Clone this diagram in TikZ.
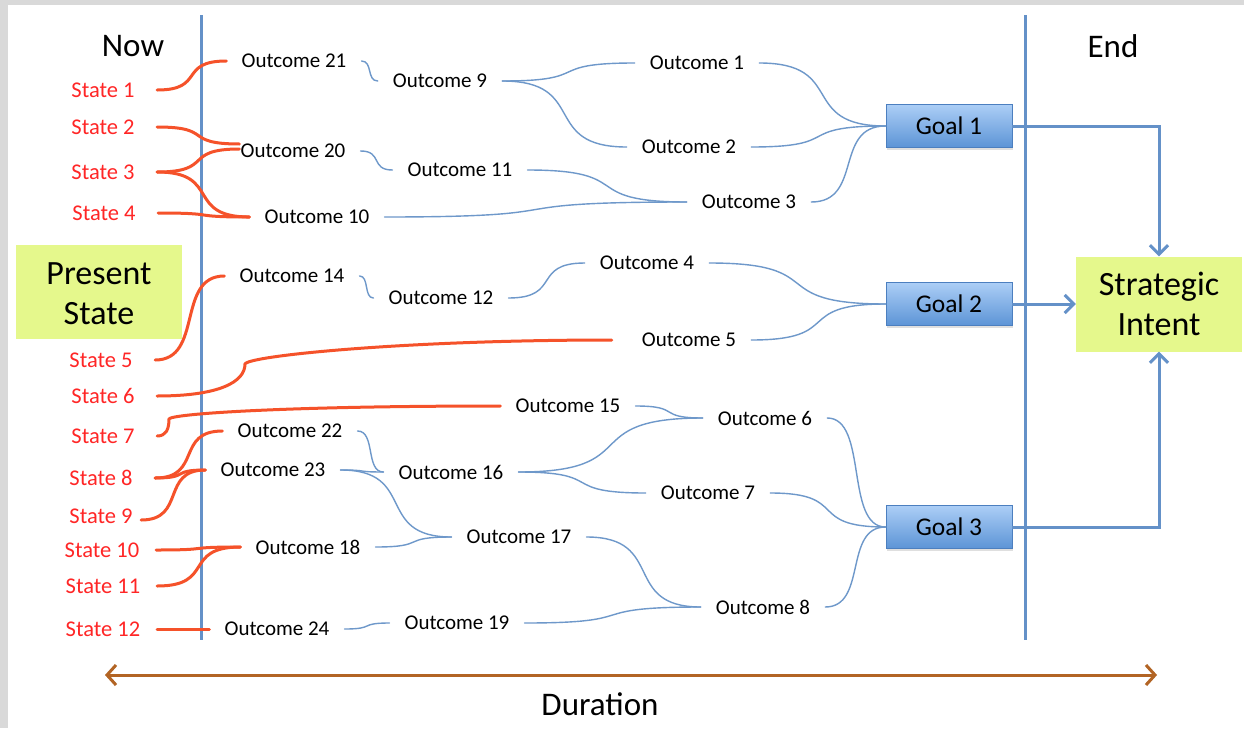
\documentclass[tikz,border=0pt]{standalone}
\usepackage{fontspec}
\setmainfont{Carlito}
\usetikzlibrary{calc,arrows.meta,shadows}
\definecolor{bgray}{RGB}{217,217,217}
\definecolor{axisblue}{RGB}{100,145,200}
\definecolor{linkblue}{RGB}{110,152,202}
\definecolor{redline}{RGB}{245,82,42}
\definecolor{statered}{RGB}{255,38,38}
\definecolor{boxgreen}{RGB}{229,248,140}
\definecolor{goaltop}{RGB}{172,206,246}
\definecolor{goalbot}{RGB}{92,148,214}
\definecolor{goalborder}{RGB}{76,127,191}
\definecolor{durbrown}{RGB}{178,100,36}
\begin{document}
\begin{tikzpicture}[x=1pt,y=-1pt,
  brc/.style={to path={.. controls ($(\tikztostart)!#1!(\tikztostart -| \tikztotarget)$) and ($(\tikztotarget)!#1!(\tikztotarget -| \tikztostart)$) .. (\tikztotarget)}},
  brc/.default=0.7,
  outc/.style={font=\fontsize{21}{25}\selectfont, inner xsep=15pt, inner ysep=2pt},
  stt/.style={font=\fontsize{22.5}{27}\selectfont, text=statered, minimum width=108pt, inner xsep=0pt, inner ysep=2pt},
  goalbox/.style={draw=goalborder, line width=0.8pt, top color=goaltop, bottom color=goalbot, minimum width=126pt, minimum height=43pt, font=\fontsize{25.5}{30}\selectfont, inner sep=0pt, drop shadow={opacity=0.25, shadow xshift=1pt, shadow yshift=-2pt}},
  bigbox/.style={fill=boxgreen, minimum width=166pt, minimum height=95pt, align=center, font=\fontsize{34}{40}\selectfont, inner sep=0pt},
  heading/.style={font=\fontsize{33}{40}\selectfont},
  axisline/.style={draw=axisblue, line width=3pt},
  link/.style={draw=linkblue, line width=1.4pt, line cap=round},
  redl/.style={draw=redline, line width=3pt, line cap=round},
  goalarrow/.style={draw=axisblue, line width=3pt, -{Straight Barb[length=9pt,width=18pt]}},
  durarrow/.style={draw=durbrown, line width=3pt, {Straight Barb[length=9pt,width=20pt]}-{Straight Barb[length=9pt,width=20pt]}}
]
\useasboundingbox (0,0) rectangle (1244,728);
\fill[bgray] (0,0) rectangle (1244,728);
\fill[white] (8,5) rectangle (1244,728);

% axes
\coordinate (lt) at (201,15); \coordinate (lb) at (201,640);
\coordinate (rt) at (1025,15); \coordinate (rb) at (1025,640);
\draw[axisline] (lt) -- (lb);
\draw[axisline] (rt) -- (rb);

% headings
\node[heading] (now) at (133,46) {Now};
\node[heading] (end) at (1113,46) {End};
\node[heading] (dur) at (600,704) {Duration};

% big boxes
\fill[boxgreen] (16,245) rectangle (182,339);
\node[align=center, font=\fontsize{34}{40}\selectfont, inner sep=0pt] (present) at (99,294) {Present\\State};
\node[bigbox] (intent) at (1159,304) {Strategic\\Intent};

% goals
\node[goalbox] (g1) at (949,126) {Goal 1};
\node[goalbox] (g2) at (949,304) {Goal 2};
\node[goalbox] (g3) at (949,527) {Goal 3};

% states
\node[stt] (s1) at (103,90) {State 1};
\node[stt] (s2) at (103,127) {State 2};
\node[stt] (s3) at (103,172) {State 3};
\node[stt] (s4) at (104,213) {State 4};
\node[stt] (s5) at (101,360) {State 5};
\node[stt] (s6) at (103,396) {State 6};
\node[stt] (s7) at (103,436) {State 7};
\node[stt] (s8) at (101,478) {State 8};
\node[stt] (s9) at (101,516) {State 9};
\node[stt] (s10) at (102,550) {State 10};
\node[stt] (s11) at (103,586) {State 11};
\node[stt] (s12) at (103,629) {State 12};

% outcomes
\node[outc] (o21) at (294,61) {Outcome 21};
\node[outc] (o9) at (440,81) {Outcome 9};
\node[outc] (o1) at (697,63) {Outcome 1};
\node[outc] (o2) at (689,147) {Outcome 2};
\node[outc] (o20) at (293,151) {Outcome 20};
\node[outc] (o11) at (460,170) {Outcome 11};
\node[outc] (o3) at (749,202) {Outcome 3};
\node[outc] (o10) at (317,217) {Outcome 10};
\node[outc] (o14) at (292,276) {Outcome 14};
\node[outc] (o12) at (441,298) {Outcome 12};
\node[outc] (o4) at (647,263) {Outcome 4};
\node[outc] (o5) at (689,340) {Outcome 5};
\node[outc] (o15) at (568,406) {Outcome 15};
\node[outc] (o6) at (765,418) {Outcome 6};
\node[outc] (o22) at (290,431) {Outcome 22};
\node[outc] (o23) at (273,470) {Outcome 23};
\node[outc] (o16) at (451,472) {Outcome 16};
\node[outc] (o7) at (708,493) {Outcome 7};
\node[outc] (o17) at (519,537) {Outcome 17};
\node[outc] (o18) at (308,547) {Outcome 18};
\node[outc] (o8) at (763,607) {Outcome 8};
\node[outc] (o24) at (277,629) {Outcome 24};
\node[outc] (o19) at (457,623) {Outcome 19};

% helper coordinates
\coordinate (o20a) at ([shift={(14,-7)}]o20.west);
\coordinate (o20b) at ([shift={(14,-2)}]o20.west);
\coordinate (o5in) at ([xshift=-15pt]o5.west);
\coordinate (s9out) at ([shift={(-14,4)}]s9.east);
\coordinate (k6) at (245,364);
\coordinate (k7) at (169,419);

% red connectors
\draw[redl] (s1.east) to[brc] (o21.west);
\draw[redl] (s2.east) to[brc] (o20a);
\draw[redl] (s3.east) to[brc] (o20b);
\draw[redl] (s3.east) to[brc] (o10.west);
\draw[redl] (s4.east) to[brc] (o10.west);
\draw[redl] (s5.east) to[brc] (o14.west);
\draw[redl] (s6.east) .. controls +(62,0) and +(0,18) .. (k6) .. controls +(3,-8) and +(-210,0) .. (o5in);
\draw[redl] (s7.east) .. controls +(9,0) and +(0,10) .. (k7) .. controls +(2,-5) and +(-220,0) .. (o15.west);
\draw[redl] (s8.east) to[brc] (o22.west);
\draw[redl] (s8.east) to[brc] (o23.west);
\draw[redl] (s9out) to[brc] (o23.west);
\draw[redl] (s10.east) to[brc] (o18.west);
\draw[redl] (s11.east) to[brc] (o18.west);
\draw[redl] (s12.east) to[brc] (o24.west);

% blue connectors
\draw[link] (o21.east) to[brc] (o9.west);
\draw[link] (o20.east) to[brc] (o11.west);
\draw[link] (o9.east) to[brc] (o1.west);
\draw[link] (o9.east) to[brc] (o2.west);
\draw[link] (o11.east) to[brc] (o3.west);
\draw[link] (o10.east) to[brc] (o3.west);
\draw[link] (o1.east) to[brc] (g1.west);
\draw[link] (o2.east) to[brc] (g1.west);
\draw[link] (o3.east) to[brc] (g1.west);
\draw[link] (o14.east) to[brc] (o12.west);
\draw[link] (o12.east) to[brc] (o4.west);
\draw[link] (o4.east) to[brc] (g2.west);
\draw[link] (o5.east) to[brc] (g2.west);
\draw[link] (o15.east) to[brc] (o6.west);
\draw[link] (o16.east) to[brc] (o6.west);
\draw[link] (o16.east) to[brc] (o7.west);
\draw[link] (o22.east) to[brc] (o16.west);
\draw[link] (o23.east) to[brc] (o16.west);
\draw[link] (o23.east) to[brc] (o17.west);
\draw[link] (o18.east) to[brc] (o17.west);
\draw[link] (o17.east) to[brc] (o8.west);
\draw[link] (o19.east) to[brc] (o8.west);
\draw[link] (o24.east) to[brc] (o19.west);
\draw[link] (o6.east) to[brc] (g3.west);
\draw[link] (o7.east) to[brc] (g3.west);
\draw[link] (o8.east) to[brc] (g3.west);

% goal arrows
\draw[goalarrow] (g1.east) -| (intent.north);
\draw[goalarrow] (g2.east) -- (intent.west);
\draw[goalarrow] (g3.east) -| (intent.south);

% duration
\coordinate (dl) at (105,675);
\coordinate (dr) at (1157,675);
\draw[durarrow] (dl) -- (dr);
\end{tikzpicture}
\end{document}
